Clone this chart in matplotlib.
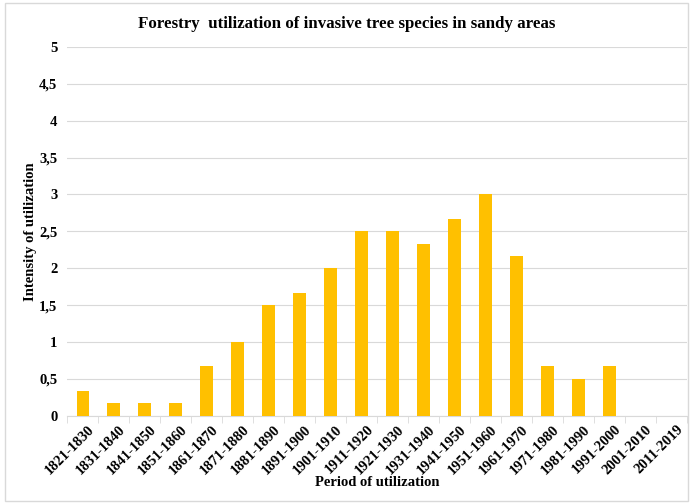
import matplotlib
matplotlib.use("Agg")
import matplotlib.pyplot as plt
from matplotlib.patches import Rectangle
from matplotlib.transforms import ScaledTranslation
import numpy as np

periods = ["1821-1830", "1831-1840", "1841-1850", "1851-1860", "1861-1870",
           "1871-1880", "1881-1890", "1891-1900", "1901-1910", "1911-1920",
           "1921-1930", "1931-1940", "1941-1950", "1951-1960", "1961-1970",
           "1971-1980", "1981-1990", "1991-2000", "2001-2010", "2011-2019"]
intensity = [0.33, 0.17, 0.17, 0.17, 0.67, 1.0, 1.5, 1.67, 2.0, 2.5,
             2.5, 2.33, 2.67, 3.0, 2.17, 0.67, 0.5, 0.67, 0, 0]
yticks = [0, 0.5, 1, 1.5, 2, 2.5, 3, 3.5, 4, 4.5, 5]
ytick_labels = ["0", "0,5", "1", "1,5", "2", "2,5", "3", "3,5", "4", "4,5", "5"]

plt.rcParams['font.family'] = ['Liberation Serif', 'DejaVu Serif']
plt.rcParams['font.weight'] = 'bold'

fig = plt.figure(figsize=(6.93, 5.04), dpi=100)
fig.patches.append(Rectangle((0.007, 0.006), 0.986, 0.988, transform=fig.transFigure,
                             fill=False, edgecolor="#D9D9D9", linewidth=1))
ax = fig.add_axes([0.097, 0.175, 0.894, 0.732])

x = np.arange(len(periods))
ax.bar(x, intensity, width=0.4, color="#FFC000", zorder=3)
ax.set_xlim(-0.5, len(periods) - 0.5)
ax.set_ylim(0, 5)
ax.set_yticks(yticks)
ax.set_yticklabels(ytick_labels, fontsize=10.5, fontweight='bold')
ax.yaxis.grid(True, color="#D9D9D9", linewidth=0.8, zorder=0)
ax.tick_params(axis='y', length=0, pad=7)

ax.set_xticks(x)
ax.set_xticklabels(periods, rotation=45, ha='right', rotation_mode='anchor',
                   fontsize=10.5, fontweight='bold')
ax.tick_params(axis='x', length=0, pad=5)
offset = ScaledTranslation(5 / 100, 0, fig.dpi_scale_trans)
for lab in ax.get_xticklabels():
    lab.set_transform(lab.get_transform() + offset)
ax.set_xticks(np.arange(-0.5, len(periods), 1), minor=True)
ax.tick_params(axis='x', which='minor', length=5, color="#D9D9D9")

for s in ["top", "right", "left"]:
    ax.spines[s].set_visible(False)
ax.spines["bottom"].set_color("#D9D9D9")

ax.set_xlabel("Period of utilization", fontsize=10.5, fontweight='bold')
ax.xaxis.set_label_coords(0.5, -0.163)
ax.set_ylabel("Intensity of utilization", fontsize=10.5, fontweight='bold')
ax.yaxis.set_label_coords(-0.049, 0.5)
fig.text(0.5, 0.953, "Forestry  utilization of invasive tree species in sandy areas",
         ha='center', va='center', fontsize=12.2, fontweight='bold')

fig.savefig("out.png", dpi=100)
